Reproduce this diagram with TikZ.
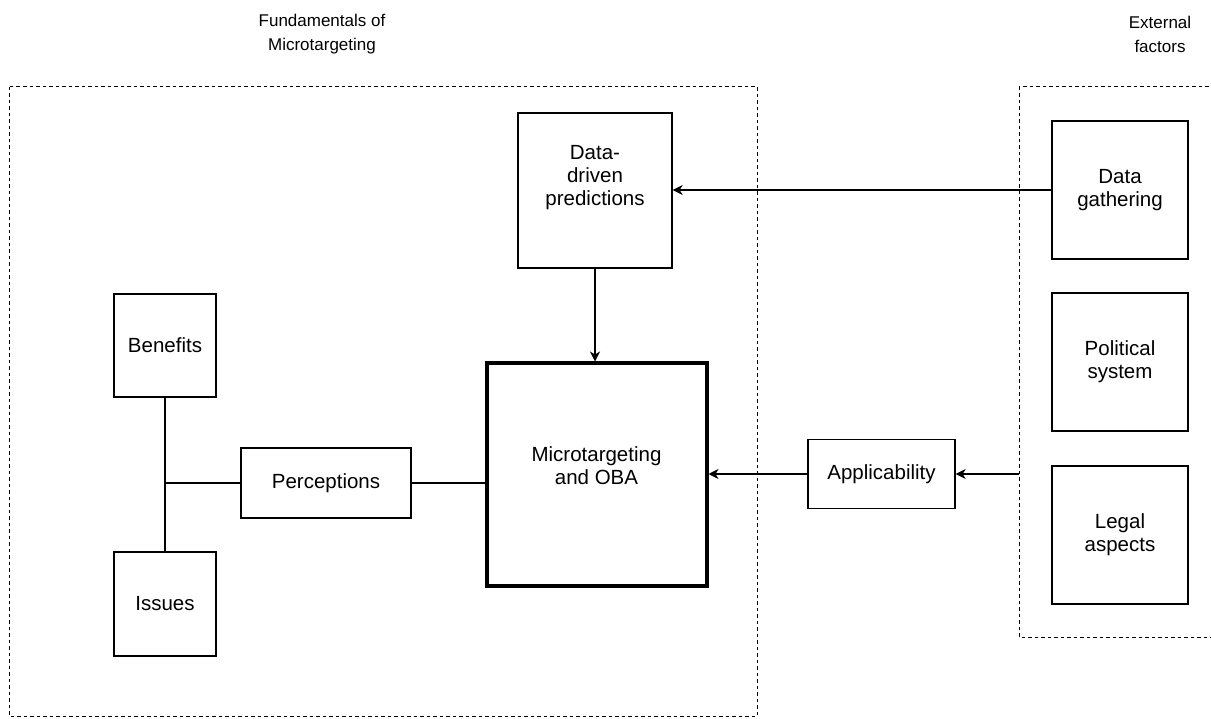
\documentclass[tikz,border=0pt]{standalone}
\usepackage{fontspec}
\setmainfont{Liberation Sans}
\usetikzlibrary{arrows.meta}
\begin{document}
\begin{tikzpicture}[x=1pt,y=-1pt,
  box/.style={draw, line width=1.3pt, align=center, inner sep=0pt,
    font=\fontsize{20.5}{23}\selectfont},
  thickbox/.style={box, line width=4pt},
  title/.style={align=center, font=\fontsize{17}{24}\selectfont},
  group/.style={draw, line width=1pt, dash pattern=on 3.5pt off 3pt},
  conn/.style={line width=1.3pt},
  arr/.style={conn, -{Stealth[length=10pt,width=10pt,inset=3pt]}}]
\useasboundingbox (0,0) rectangle (1211,719);
\clip (0,0) rectangle (1211,719);
\fill[white] (0,0) rectangle (1211,719);
% groups
\draw[group] (9,87) rectangle (757,716);
\draw[group] (1019,87) rectangle (1230,637);
\node[title] (t1) at (322,34) {Fundamentals of\\Microtargeting};
\node[title] (t2) at (1160,34) {External\\factors};
% nodes
\node[box, minimum width=154pt, minimum height=155pt] (ddp) at (595,190.5) {Data-\\driven\\predictions\\[8pt]\mbox{}};
\node[thickbox, minimum width=220pt, minimum height=222pt] (mt) at (596.5,474.5) {Microtargeting\\and OBA\\[-6pt]\mbox{}};
\node[box, minimum width=102pt, minimum height=103pt] (ben) at (165,345.5) {Benefits};
\node[box, minimum width=102pt, minimum height=104pt] (iss) at (165,604) {Issues};
\node[box, minimum width=170pt, minimum height=70pt] (per) at (326,483) {Perceptions};
\node[box, minimum width=147pt, minimum height=69pt] (app) at (881.5,474) {Applicability};
\node[box, minimum width=136pt, minimum height=138pt] (dg) at (1120,190) {Data\\gathering};
\node[box, minimum width=136pt, minimum height=138pt] (ps) at (1120,362) {Political\\system};
\node[box, minimum width=136pt, minimum height=138pt] (la) at (1120,535) {Legal\\aspects};
\coordinate (j) at (165,483);
\coordinate (ext) at (1019,474);
% connectors
\draw[conn] (ben.south) -- (iss.north);
\draw[conn] (j) -- (per.west);
\draw[conn] (per.east) -- (per.east -| mt.west);
\draw[arr] (ddp.south) -- (ddp.south |- mt.north);
\draw[arr] (dg.west) -- (dg.west -| ddp.east);
\draw[arr] (app.west) -- (app.west -| mt.east);
\draw[arr] (ext) -- (app.east);
\end{tikzpicture}
\end{document}
